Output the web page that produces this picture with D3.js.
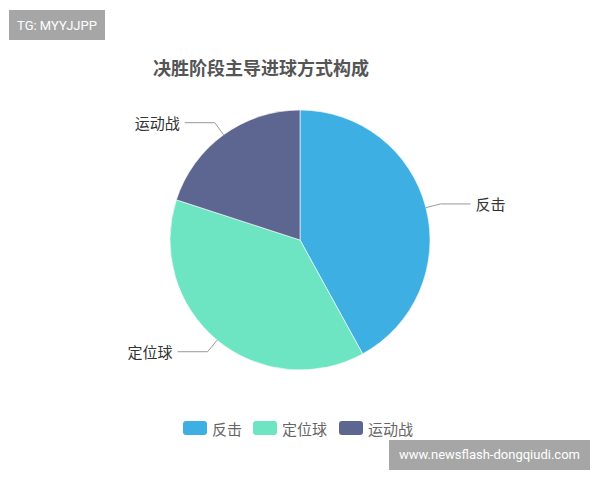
<!DOCTYPE html>
<html>
<head>
<meta charset="utf-8">
<script src="https://cdn.jsdelivr.net/npm/d3@7"></script>
<style>
  body { margin: 0; background: #fff; }
  svg { display: block; font-family: "Noto Sans CJK SC", "Noto Sans", sans-serif; }
</style>
</head>
<body>
<div id="chart"></div>
<script>
// data (share of goals, %)
var categories = ['反击', '定位球', '运动战'];
var values = [42, 38, 20];
var colors = ['#3eafe3', '#6de4c2', '#5c6690'];
var title = '决胜阶段主导进球方式构成';

var width = 600, height = 480;
var cx = 300, cy = 240, radius = 130;

var svg = d3.select('#chart').append('svg')
  .attr('width', width)
  .attr('height', height);

svg.append('rect')
  .attr('width', width)
  .attr('height', height)
  .attr('fill', '#fff');

// title
svg.append('text')
  .attr('x', 261)
  .attr('y', 67)
  .attr('text-anchor', 'middle')
  .attr('dominant-baseline', 'central')
  .attr('font-size', 18)
  .attr('font-weight', 'bold')
  .attr('fill', '#555')
  .text(title);

var color = d3.scaleOrdinal()
  .domain(categories)
  .range(colors);

var pie = d3.pie()
  .sort(null)
  .value(function(d) { return d.value; });

var data = categories.map(function(c, i) {
  return {name: c, value: values[i]};
});
var arcs = pie(data);

var arc = d3.arc()
  .innerRadius(0)
  .outerRadius(radius);

var g = svg.append('g')
  .attr('transform', 'translate(' + cx + ',' + cy + ')');

g.selectAll('path.slice')
  .data(arcs)
  .enter()
  .append('path')
  .attr('class', 'slice')
  .attr('d', arc)
  .attr('fill', function(d) { return color(d.data.name); })
  .attr('stroke', '#fff')
  .attr('stroke-width', 0.6);

// label lines
function mid(d) { return (d.startAngle + d.endAngle) / 2; }
function polar(a, r) { return [Math.sin(a) * r, -Math.cos(a) * r]; }

var lineLen = 30;

g.selectAll('polyline.guide')
  .data(arcs)
  .enter()
  .append('polyline')
  .attr('class', 'guide')
  .attr('fill', 'none')
  .attr('stroke', '#999')
  .attr('stroke-width', 1)
  .attr('points', function(d) {
    var a = mid(d);
    var p1 = polar(a, radius);
    var p2 = polar(a, radius + 15);
    var dir = Math.sin(a) >= 0 ? 1 : -1;
    var p3 = [p2[0] + dir * lineLen, p2[1]];
    return [p1, p2, p3].map(function(p) { return p.join(','); }).join(' ');
  });

g.selectAll('text.label')
  .data(arcs)
  .enter()
  .append('text')
  .attr('class', 'label')
  .attr('x', function(d) {
    var a = mid(d);
    var dir = Math.sin(a) >= 0 ? 1 : -1;
    return polar(a, radius + 15)[0] + dir * (lineLen + 5);
  })
  .attr('y', function(d) { return polar(mid(d), radius + 15)[1]; })
  .attr('text-anchor', function(d) { return Math.sin(mid(d)) >= 0 ? 'start' : 'end'; })
  .attr('dominant-baseline', 'central')
  .attr('font-size', 15)
  .attr('fill', '#333')
  .text(function(d) { return d.data.name; });

// legend
var legendX = [183, 253, 339];
var legend = svg.selectAll('g.legend')
  .data(categories)
  .enter()
  .append('g')
  .attr('class', 'legend')
  .attr('transform', function(d, i) { return 'translate(' + legendX[i] + ',428)'; });

legend.append('rect')
  .attr('x', 0)
  .attr('y', -7)
  .attr('width', 24)
  .attr('height', 14)
  .attr('rx', 3)
  .attr('fill', function(d) { return color(d); });

legend.append('text')
  .attr('x', 29)
  .attr('y', 0)
  .attr('dominant-baseline', 'central')
  .attr('font-size', 15)
  .attr('fill', '#666')
  .text(function(d) { return d; });

// watermark boxes
svg.append('rect')
  .attr('x', 9).attr('y', 10)
  .attr('width', 96).attr('height', 30)
  .attr('fill', '#a6a6a6');
svg.append('text')
  .attr('x', 57).attr('y', 25)
  .attr('text-anchor', 'middle')
  .attr('dominant-baseline', 'central')
  .attr('font-family', 'Roboto, sans-serif')
  .attr('font-size', 13)
  .attr('fill', '#fff')
  .text('TG: MYYJJPP');

svg.append('rect')
  .attr('x', 389).attr('y', 440)
  .attr('width', 201).attr('height', 30)
  .attr('fill', '#a6a6a6');
svg.append('text')
  .attr('x', 489.5).attr('y', 454)
  .attr('text-anchor', 'middle')
  .attr('dominant-baseline', 'central')
  .attr('font-family', 'Roboto, sans-serif')
  .attr('font-size', 13)
  .attr('fill', '#fff')
  .text('www.newsflash-dongqiudi.com');
</script>
</body>
</html>
